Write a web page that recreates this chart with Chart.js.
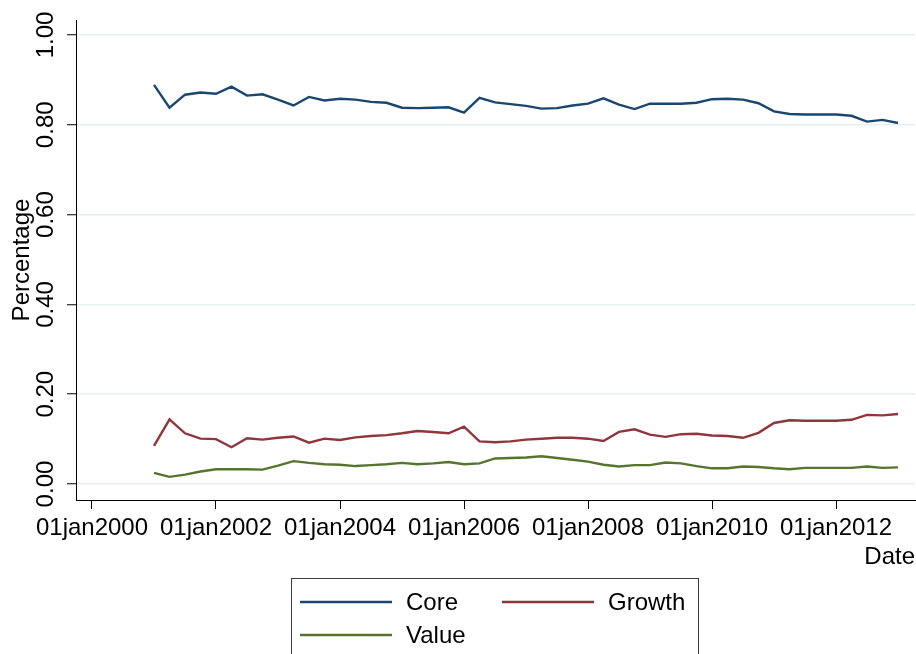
<!DOCTYPE html>
<html>
<head>
<meta charset="utf-8">
<title>Core / Growth / Value share</title>
<script src="https://cdn.jsdelivr.net/npm/chart.js@4.4.1/dist/chart.umd.min.js"></script>
<style>
  html, body { margin: 0; padding: 0; background: #fff; }
  canvas { display: block; }
</style>
</head>
<body>
<canvas id="shareChart" width="916" height="654"></canvas>
<script>
// quarterly observations, 01jan2001 .. 01jan2013
const firstYear = 2001;
const core = [
  0.889, 0.838, 0.867, 0.872, 0.869, 0.885, 0.865, 0.868, 0.856, 0.843, 0.862, 0.854, 0.858, 0.856, 0.851, 0.849, 0.838,
  0.837, 0.838, 0.839, 0.827, 0.860, 0.850, 0.846, 0.842, 0.836, 0.837, 0.843, 0.847, 0.859, 0.845, 0.835, 0.847,
  0.847, 0.847, 0.849, 0.857, 0.858, 0.856, 0.848, 0.830, 0.824, 0.823, 0.823, 0.823, 0.820, 0.807, 0.811, 0.804
];
const growth = [
  0.085, 0.144, 0.113, 0.101, 0.100, 0.082, 0.102, 0.099, 0.103, 0.106, 0.092, 0.101, 0.098, 0.104, 0.107, 0.109, 0.113,
  0.118, 0.116, 0.113, 0.128, 0.095, 0.093, 0.095, 0.099, 0.101, 0.103, 0.103, 0.101, 0.096, 0.116, 0.122, 0.110,
  0.105, 0.111, 0.112, 0.108, 0.107, 0.103, 0.114, 0.136, 0.142, 0.141, 0.141, 0.141, 0.143, 0.154, 0.153, 0.156
];
const value = [
  0.025, 0.016, 0.021, 0.028, 0.033, 0.033, 0.033, 0.032, 0.041, 0.051, 0.047, 0.044, 0.043, 0.040, 0.042, 0.044, 0.047,
  0.044, 0.046, 0.049, 0.044, 0.046, 0.057, 0.058, 0.059, 0.062, 0.058, 0.054, 0.050, 0.043, 0.039, 0.042, 0.042,
  0.048, 0.046, 0.040, 0.035, 0.035, 0.039, 0.038, 0.035, 0.033, 0.036, 0.036, 0.036, 0.036, 0.039, 0.036, 0.037
];

const xTickValues = [2000, 2002, 2004, 2006, 2008, 2010, 2012];
const xTickLabels = ["01jan2000", "01jan2002", "01jan2004", "01jan2006", "01jan2008", "01jan2010", "01jan2012"];
const yTickValues = [0, 0.2, 0.4, 0.6, 0.8, 1.0];
const yTickLabels = ["0.00", "0.20", "0.40", "0.60", "0.80", "1.00"];

const seriesNames = ["Core", "Growth", "Value"];
const seriesColors = ["#1a476f", "#90353b", "#55752f"];

const FONT = "'Liberation Sans', Arial, Helvetica, sans-serif";

// x as fractional year, one step per quarter
const toPoints = (arr) => arr.map((v, i) => ({ x: firstYear + i / 4, y: v }));

// stata-style legend box under the plot, two keys per row
const boxLegend = {
  id: "boxLegend",
  afterDraw(chart) {
    const { ctx } = chart;
    const slots = [
      { x: 300, y: 602 },
      { x: 502, y: 602 },
      { x: 300, y: 635 },
    ];
    ctx.save();
    ctx.strokeStyle = "#3c3c3c";
    ctx.lineWidth = 1;
    ctx.strokeRect(291.5, 578.5, 407, 120);
    ctx.font = `24px ${FONT}`;
    ctx.textBaseline = "middle";
    ctx.textAlign = "left";
    chart.data.datasets.forEach((ds, i) => {
      const s = slots[i];
      ctx.strokeStyle = ds.borderColor;
      ctx.lineWidth = 2.3;
      ctx.beginPath();
      ctx.moveTo(s.x, s.y);
      ctx.lineTo(s.x + 92, s.y);
      ctx.stroke();
      ctx.fillStyle = "#000";
      ctx.fillText(ds.label, s.x + 106, s.y + 1);
    });
    ctx.restore();
  },
};

const ctx = document.getElementById("shareChart");
new Chart(ctx, {
  type: "line",
  data: {
    datasets: [
      { label: seriesNames[0], data: toPoints(core), borderColor: seriesColors[0] },
      { label: seriesNames[1], data: toPoints(growth), borderColor: seriesColors[1] },
      { label: seriesNames[2], data: toPoints(value), borderColor: seriesColors[2] },
    ],
  },
  options: {
    responsive: false,
    animation: false,
    devicePixelRatio: 1,
    layout: { padding: { top: 20, right: 1, bottom: 82, left: 0 } },
    elements: {
      line: { borderWidth: 2.4, tension: 0, fill: false },
      point: { radius: 0, hoverRadius: 0 },
    },
    plugins: {
      legend: { display: false },
      tooltip: { enabled: false },
    },
    scales: {
      x: {
        type: "linear",
        min: 2000 - 16 / 62,
        max: 2000 + 823 / 62,
        afterBuildTicks: (scale) => {
          scale.ticks = xTickValues.map((v) => ({ value: v }));
        },
        afterFit: (scale) => {
          scale.height = 72;
        },
        ticks: {
          color: "#000",
          font: { family: FONT, size: 24 },
          padding: 4.5,
          maxRotation: 0,
          autoSkip: false,
          callback: (v) => xTickLabels[xTickValues.indexOf(v)],
        },
        grid: {
          drawOnChartArea: false,
          drawTicks: true,
          tickLength: 9,
          tickColor: "#000",
        },
        border: { display: true, color: "#000", width: 1 },
        title: {
          display: true,
          text: "Date",
          align: "end",
          color: "#000",
          font: { family: FONT, size: 24 },
          padding: { top: 0, bottom: 0 },
        },
      },
      y: {
        type: "linear",
        min: -16 / 450,
        max: 1 + 15 / 450,
        afterBuildTicks: (scale) => {
          scale.ticks = yTickValues.map((v) => ({ value: v }));
        },
        afterFit: (scale) => {
          scale.width = 76;
        },
        ticks: {
          color: "#000",
          font: { family: FONT, size: 24 },
          minRotation: 90,
          maxRotation: 90,
          crossAlign: "center",
          padding: -3,
          callback: (v) => yTickLabels[yTickValues.findIndex((t) => Math.abs(t - v) < 1e-9)],
        },
        grid: {
          color: "#e6eff0",
          lineWidth: 1.5,
          drawTicks: true,
          tickLength: 9,
          tickColor: "#000",
          tickWidth: 1,
        },
        border: { display: true, color: "#000", width: 1 },
        title: {
          display: true,
          text: "Percentage",
          color: "#000",
          font: { family: FONT, size: 24 },
          padding: { top: 7.6, bottom: 0 },
        },
      },
    },
  },
  plugins: [boxLegend],
});
</script>
</body>
</html>
